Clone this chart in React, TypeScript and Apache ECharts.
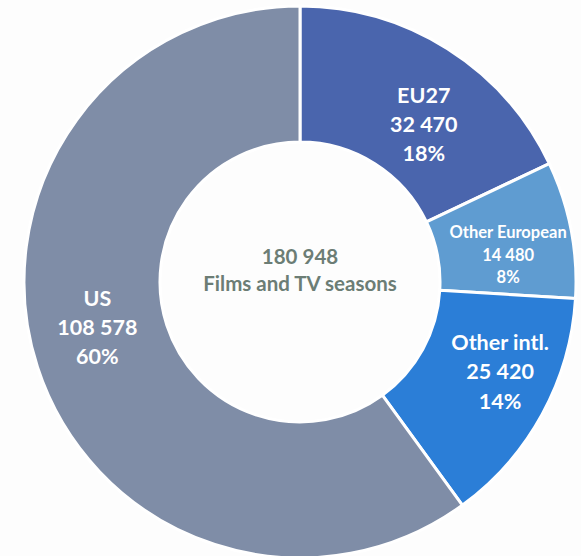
import React, { useEffect, useRef } from "react";
import * as echarts from "echarts";

const categories = ["EU27", "Other European", "Other intl.", "US"];
const values = [32470, 14480, 25420, 108578];
const colors = ["#4A65AD", "#5F9CD1", "#2B7ED7", "#7F8DA7"];
const labelSizes = [21.5, 16.5, 21.5, 21.5];
const labelLineHeights = [29, 22.5, 29.5, 29];
// nudges of each label inside its slice, [dx, dy]
const labelShift = [
  [11, 20],
  [1, 13],
  [15, -12],
  [-2, -20],
];
const totalLabel = "Films and TV seasons";

const fmt = (n: number) => String(n).replace(/\B(?=(\d{3})+(?!\d))/g, " ");

export default function App() {
  const ref = useRef<HTMLDivElement>(null);
  useEffect(() => {
    if (!ref.current) return;
    const chart = echarts.init(ref.current, null, { renderer: "svg" });
    const total = values.reduce((a, b) => a + b, 0);
    chart.setOption({
      animation: false,
      backgroundColor: "#fdfdfd",
      title: {
        text: fmt(total) + "\n" + totalLabel,
        left: 300,
        top: 242,
        padding: 0,
        textAlign: "center",
        textStyle: {
          fontFamily: "Lato",
          fontWeight: "bold",
          fontSize: 20.5,
          lineHeight: 27,
          color: "#6C7D75",
        },
      },
      series: [
        {
          type: "pie",
          center: [300, 282],
          radius: [140, 276],
          startAngle: 90,
          clockwise: true,
          avoidLabelOverlap: false,
          itemStyle: { borderColor: "#ffffff", borderWidth: 3 },
          emphasis: { disabled: true },
          labelLine: { show: false },
          data: categories.map((name, i) => {
            const [dx, dy] = labelShift[i];
            const pct = Math.round((values[i] / total) * 100) + "%";
            const body = `{t|${name}}\n{t|${fmt(values[i])}}\n{t|${pct}}`;
            const text =
              dy > 0 ? `{sp| }\n${body}` : dy < 0 ? `${body}\n{sp| }` : body;
            return {
              name,
              value: values[i],
              itemStyle: { color: colors[i] },
              label: {
                show: true,
                position: "inside",
                align: "center",
                padding: dx >= 0 ? [0, 0, 0, 2 * dx] : [0, -2 * dx, 0, 0],
                formatter: () => text,
                rich: {
                  t: {
                    fontFamily: "Lato",
                    fontWeight: "bold",
                    color: "#ffffff",
                    fontSize: labelSizes[i],
                    lineHeight: labelLineHeights[i],
                    align: "center",
                  },
                  sp: {
                    fontSize: 1,
                    lineHeight: 2 * Math.abs(dy),
                    align: "center",
                  },
                },
              },
            };
          }),
        },
      ],
    });
    return () => chart.dispose();
  }, []);
  return (
    <div
      ref={ref}
      style={{ position: "fixed", left: 0, top: 0, width: 581, height: 556 }}
    />
  );
}
